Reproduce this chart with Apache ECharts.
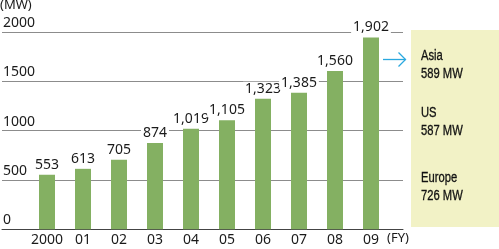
<!DOCTYPE html>
<html>
<head>
<meta charset="utf-8">
<script src="https://cdn.jsdelivr.net/npm/echarts@6/dist/echarts.min.js"></script>
<style>
html,body{margin:0;padding:0;background:#fff;}
#c{width:499px;height:249px;}
</style>
</head>
<body>
<div id="c"></div>
<script>
// Fiscal years (x-axis tick labels)
var categories = ['2000', '01', '02', '03', '04', '05', '06', '07', '08', '09'];
// Printed values above the bars (MW)
var barLabels = [553, 613, 705, 874, 1019, 1105, 1323, 1385, 1560, 1902];
// Bar heights as drawn in the picture (MW on the axis scale)
var barHeights = [553, 613, 705, 874, 1019, 1105, 1323, 1385, 1605, 1945];
// Y-axis ticks
var yTicks = [0, 500, 1000, 1500, 2000];
// Regional breakdown shown in the side panel
var regions = ['Asia', 'US', 'Europe'];
var regionValues = ['589 MW', '587 MW', '726 MW'];

function fmt(n) { return n.toLocaleString('en-US'); }

var chart = echarts.init(document.getElementById('c'), null, {renderer: 'canvas'});
var FONT = '"Noto Sans", sans-serif';
var PANEL_FONT = '14px "Liberation Sans", Arial, sans-serif';

var baselines = [[61.5, 79.5], [118, 136], [183.5, 201]];
var graphics = [
  {type: 'rect', shape: {x: 411, y: 30, width: 88, height: 197}, style: {fill: '#F2F2C6'}, z: 0},
  {type: 'text', left: 0, top: -1, style: {text: '(MW)', font: '13px ' + FONT, fill: '#1a1a1a'}},
  {type: 'text', left: 387, top: 232, style: {text: '(FY)', font: '13px ' + FONT, fill: '#1a1a1a'}},
  {type: 'polyline', shape: {points: [[383, 59.5], [405.5, 59.5]]}, style: {stroke: '#2AA8DF', lineWidth: 1.3, fill: null}},
  {type: 'polyline', shape: {points: [[398.5, 52.5], [405.5, 59.5], [398.5, 66.5]]}, style: {stroke: '#2AA8DF', lineWidth: 1.3, fill: null}}
];
regions.forEach(function (r, i) {
  graphics.push({type: 'text', x: 421, y: baselines[i][0] - 5, scaleX: 0.8,
    style: {text: r, font: PANEL_FONT, fill: '#111', verticalAlign: 'middle',
      stroke: '#111', lineWidth: 0.3}});
  graphics.push({type: 'text', x: 421, y: baselines[i][1] - 5, scaleX: 0.8,
    style: {text: regionValues[i], font: PANEL_FONT, fill: '#111', verticalAlign: 'middle',
      stroke: '#111', lineWidth: 0.3}});
});

var option = {
  animation: false,
  grid: [
    {left: 0, top: 32, width: 403, height: 197.3},
    {left: 29, top: 32, width: 360, height: 197.3}
  ],
  xAxis: [
    {gridIndex: 0, type: 'value', min: 0, max: 1, show: true,
     axisLine: {show: true, onZero: false, lineStyle: {color: '#444', width: 1}},
     axisTick: {show: false}, axisLabel: {show: false}, splitLine: {show: false}},
    {gridIndex: 1, type: 'category', data: categories,
     axisLine: {show: false}, axisTick: {show: false},
     axisLabel: {interval: 0, color: '#1a1a1a', fontFamily: FONT, fontSize: 14, margin: 4}}
  ],
  yAxis: [
    {gridIndex: 0, type: 'value', min: yTicks[0], max: yTicks[yTicks.length - 1], interval: 500,
     axisLine: {show: false}, axisTick: {show: false},
     axisLabel: {inside: true, margin: 1, verticalAlign: 'bottom', color: '#1a1a1a',
       fontFamily: FONT, fontSize: 14, padding: [0, 0, 2, 0],
       formatter: function (v) { return String(v); }},
     splitLine: {show: true, lineStyle: {color: '#8c8c8c', width: 1}}},
    {gridIndex: 1, type: 'value', min: yTicks[0], max: yTicks[yTicks.length - 1], show: false,
     splitLine: {show: false}}
  ],
  series: [{
    type: 'bar', xAxisIndex: 1, yAxisIndex: 1, barWidth: 16,
    data: barHeights,
    itemStyle: {color: '#84B062'},
    label: {show: true, position: 'top', distance: 3,
      formatter: function (p) { return fmt(barLabels[p.dataIndex]); },
      color: '#1a1a1a', fontFamily: FONT, fontSize: 14,
      backgroundColor: '#fff', padding: [0, 2, 0, 2]},
    z: 3
  }],
  graphic: graphics
};
chart.setOption(option);
</script>
</body>
</html>
